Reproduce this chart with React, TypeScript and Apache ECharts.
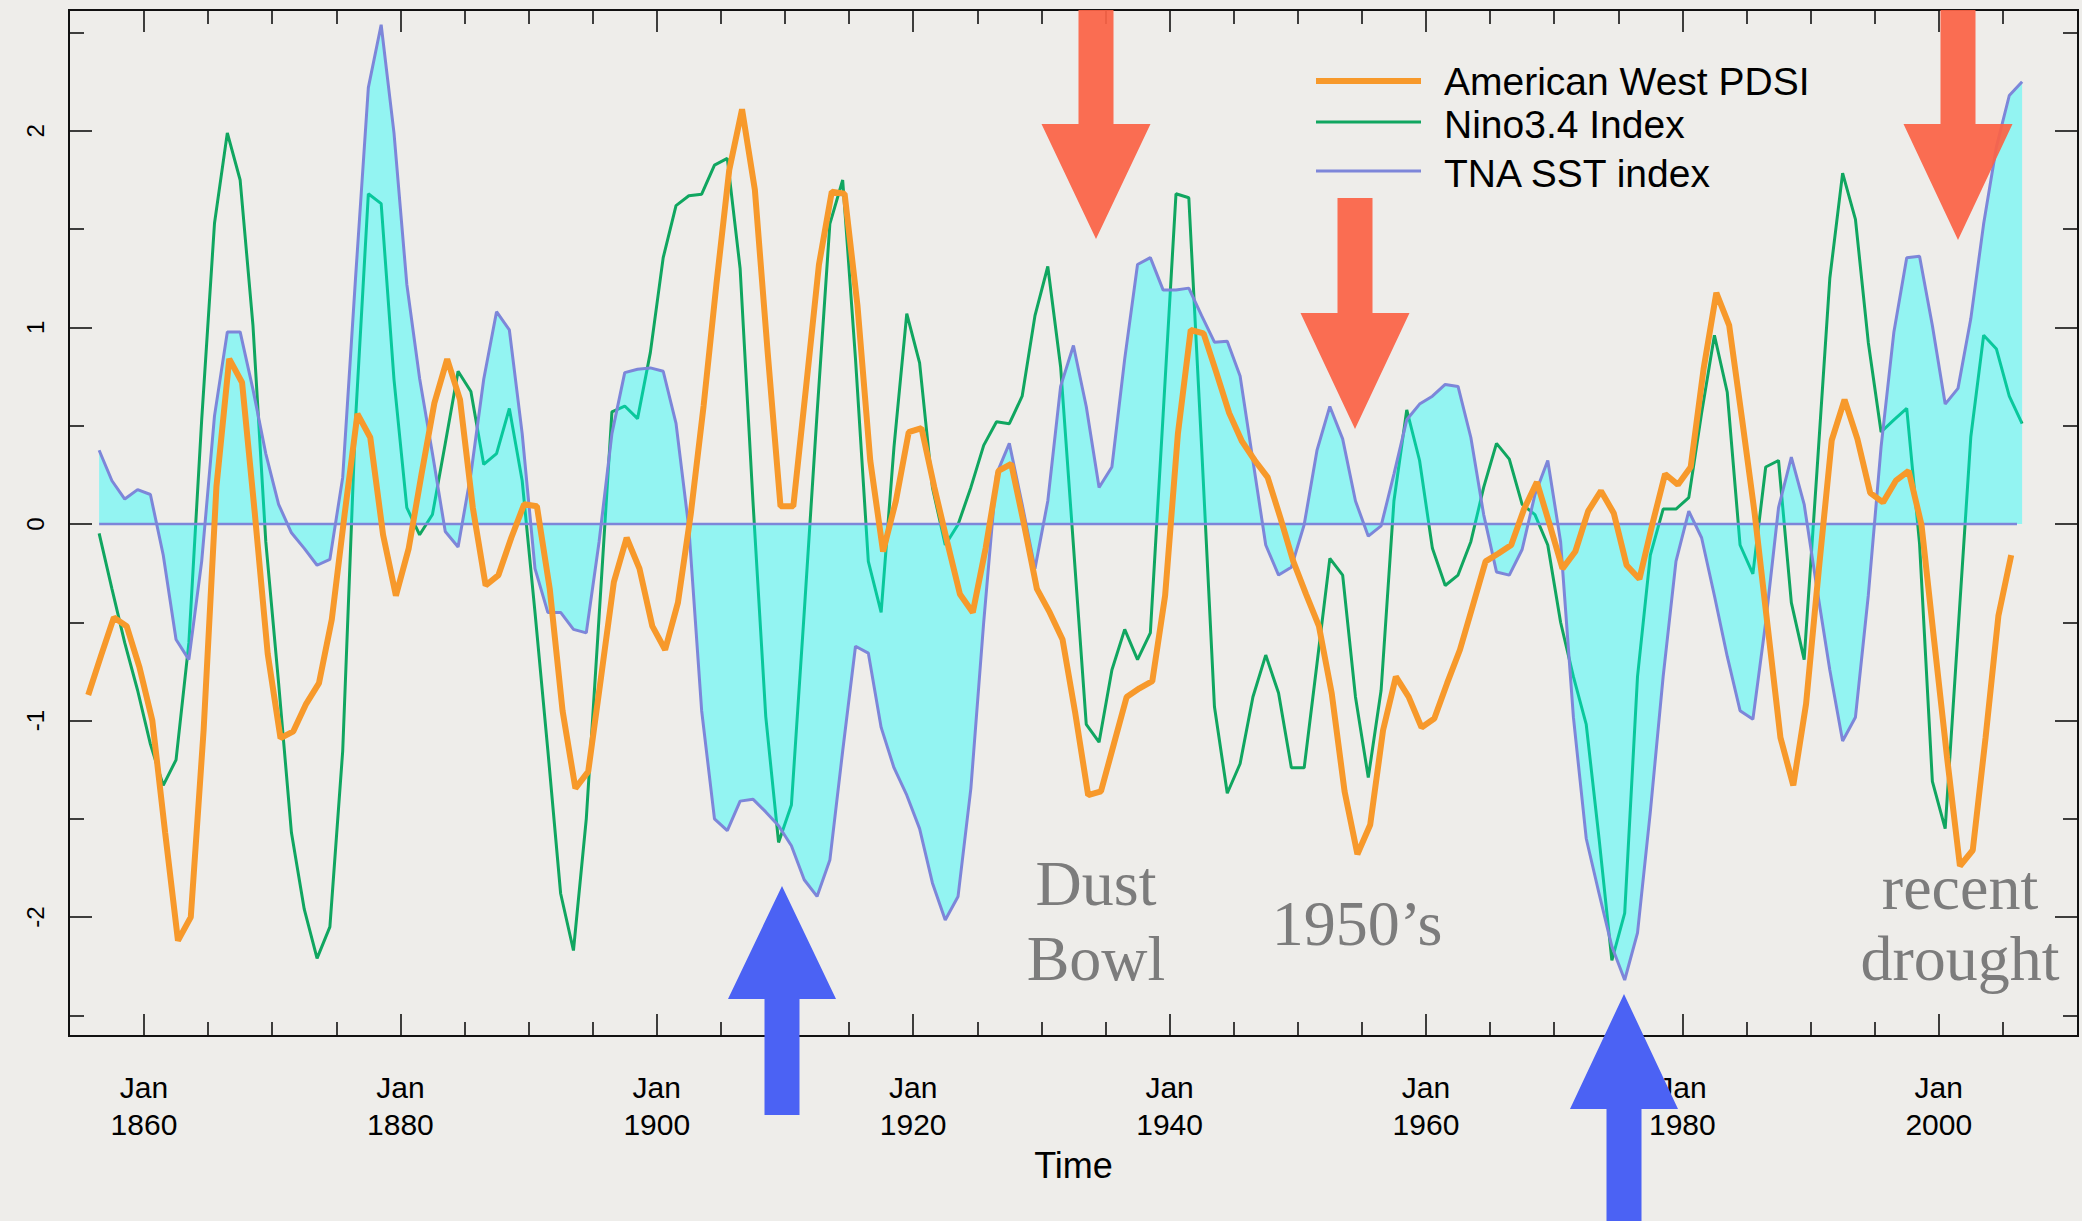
import React, { useEffect, useRef } from "react";
import * as echarts from "echarts";

// ---------------- DATA ----------------
// American West PDSI (annual, smoothed) – first point plotted at 1855.65
const PDSI_START = 1855.65;
const pdsi = [
  -0.87, -0.67, -0.475, -0.52, -0.73, -1.0, -1.57, -2.12, -2.0, -1.05,
  0.19, 0.84, 0.72, 0.05, -0.66, -1.09, -1.055, -0.915, -0.81, -0.485,
  0.05, 0.56, 0.44, -0.055, -0.365, -0.124, 0.254, 0.615, 0.839, 0.633,
  0.083, -0.313, -0.26, -0.07, 0.1, 0.09, -0.33, -0.95, -1.345, -1.26,
  -0.78, -0.296, -0.07, -0.227, -0.52, -0.64, -0.4, 0.05, 0.6, 1.22,
  1.8, 2.11, 1.7, 0.873, 0.09, 0.09, 0.7, 1.32, 1.69, 1.68,
  1.114, 0.323, -0.14, 0.117, 0.467, 0.488, 0.186, -0.09, -0.358, -0.45,
  -0.124, 0.27, 0.306, -0.003, -0.33, -0.45, -0.588, -0.966, -1.38, -1.36,
  -1.12, -0.88, -0.836, -0.8, -0.365, 0.46, 0.987, 0.97, 0.77, 0.564,
  0.42, 0.323, 0.237, 0.03, -0.19, -0.358, -0.52, -0.863, -1.36, -1.68,
  -1.53, -1.05, -0.777, -0.88, -1.035, -0.99, -0.81, -0.64, -0.416, -0.19,
  -0.15, -0.107, 0.076, 0.213, -0.003, -0.227, -0.14, 0.065, 0.168, 0.055,
  -0.21, -0.28, -0.003, 0.254, 0.2, 0.29, 0.787, 1.176, 1.01, 0.536,
  0.048, -0.52, -1.087, -1.33, -0.915, -0.227, 0.426, 0.633, 0.433, 0.158,
  0.11, 0.22, 0.27, -0.003, -0.6, -1.19, -1.74, -1.66, -1.087, -0.468,
  -0.158,
];

// Nino3.4 index and TNA SST index – first point plotted at 1856.5
const INDEX_START = 1856.5;
const nino = [
  -0.048, -0.33, -0.605, -0.846, -1.12, -1.33, -1.2, -0.605, 0.53, 1.53,
  1.99, 1.75, 1.01, -0.09, -0.81, -1.57, -1.96, -2.21, -2.05, -1.155,
  0.53, 1.68, 1.63, 0.736, 0.083, -0.055, 0.048, 0.41, 0.777, 0.674,
  0.303, 0.358, 0.588, 0.22, -0.45, -1.15, -1.88, -2.17, -1.5, -0.47,
  0.57, 0.6, 0.536, 0.873, 1.355, 1.62, 1.67, 1.678, 1.826, 1.86,
  1.3, 0.117, -0.98, -1.62, -1.43, -0.45, 0.56, 1.527, 1.75, 0.84,
  -0.19, -0.45, 0.39, 1.07, 0.82, 0.186, -0.107, -0.003, 0.186, 0.4,
  0.52, 0.51, 0.65, 1.06, 1.31, 0.8, -0.11, -1.02, -1.11, -0.743,
  -0.536, -0.69, -0.554, 0.56, 1.68, 1.66, 0.39, -0.93, -1.37, -1.22,
  -0.88, -0.667, -0.86, -1.24, -1.24, -0.71, -0.175, -0.26, -0.88, -1.29,
  -0.846, 0.117, 0.58, 0.323, -0.124, -0.313, -0.26, -0.09, 0.186, 0.41,
  0.33, 0.1, 0.048, -0.107, -0.5, -0.777, -1.02, -1.6, -2.22, -1.98,
  -0.777, -0.158, 0.076, 0.076, 0.134, 0.564, 0.96, 0.67, -0.107, -0.254,
  0.29, 0.323, -0.4, -0.69, 0.27, 1.25, 1.785, 1.55, 0.925, 0.468,
  0.53, 0.588, -0.1, -1.31, -1.55, -0.55, 0.444, 0.96, 0.89, 0.65,
  0.51,
];
const tna = [
  0.375, 0.22, 0.127, 0.175, 0.15, -0.158, -0.588, -0.69, -0.19, 0.55,
  0.977, 0.977, 0.685, 0.358, 0.1, -0.045, -0.124, -0.21, -0.18, 0.237,
  1.25, 2.22, 2.54, 1.99, 1.22, 0.74, 0.358, -0.038, -0.117, 0.254,
  0.736, 1.08, 0.987, 0.46, -0.227, -0.45, -0.45, -0.536, -0.554, -0.09,
  0.46, 0.77, 0.787, 0.794, 0.777, 0.512, -0.02, -0.95, -1.5, -1.56,
  -1.41, -1.4, -1.465, -1.535, -1.637, -1.81, -1.895, -1.71, -1.155, -0.622,
  -0.657, -1.035, -1.24, -1.38, -1.55, -1.826, -2.015, -1.895, -1.345, -0.5,
  0.254, 0.41, 0.1, -0.227, 0.117, 0.7, 0.908, 0.598, 0.186, 0.29,
  0.84, 1.32, 1.355, 1.19, 1.19, 1.2, 1.06, 0.925, 0.93, 0.753,
  0.323, -0.107, -0.26, -0.22, -0.003, 0.375, 0.598, 0.433, 0.117, -0.062,
  -0.01, 0.254, 0.53, 0.61, 0.65, 0.71, 0.7, 0.44, 0.048, -0.244,
  -0.26, -0.13, 0.15, 0.323, -0.09, -0.983, -1.6, -1.88, -2.15, -2.32,
  -2.08, -1.465, -0.777, -0.19, 0.065, -0.07, -0.365, -0.674, -0.95, -0.994,
  -0.5, 0.083, 0.34, 0.1, -0.33, -0.743, -1.104, -0.983, -0.365, 0.392,
  0.977, 1.355, 1.362, 1.01, 0.61, 0.69, 1.045, 1.527, 1.92, 2.18,
  2.25,
];
const zeroLine = [[1856.5, 0], [2006.1, 0]];

// tick positions / labels
const xMajorTicks = [1860, 1880, 1900, 1920, 1940, 1960, 1980, 2000];
const xMinorTicks = [
  1865, 1870, 1875, 1885, 1890, 1895, 1905, 1910, 1915, 1925, 1930, 1935,
  1945, 1950, 1955, 1965, 1970, 1975, 1985, 1990, 1995, 2005,
];
const yMajorTicks = [-2, -1, 0, 1, 2];
const yMinorTicks = [-2.5, -1.5, -0.5, 0.5, 1.5, 2.5];

const seriesNames = ["American West PDSI", "Nino3.4 Index", "TNA SST index"];

// ---------------- LAYOUT / STYLE ----------------
const X_MIN = 1854.15;
const X_MAX = 2010.86;
const Y_MIN = -2.605;
const Y_MAX = 2.615;
const SANS = "Liberation Sans, Arial, Helvetica, sans-serif";
const SERIF = "Liberation Serif, Times New Roman, serif";
const TICK = { color: "#111", width: 1.6 };
const ORANGE = "#F7992B";
const GREEN = "#10A660";
const SLATE = "#7D86D9";

function xAxisDef(pos: string, ticks: number[], len: number, labels: boolean) {
  return {
    type: "value",
    position: pos,
    min: X_MIN,
    max: X_MAX,
    axisLine: { show: false, onZero: false },
    splitLine: { show: false },
    axisTick: { show: true, inside: true, length: len, customValues: ticks, lineStyle: TICK },
    axisLabel: labels
      ? {
          show: true,
          customValues: ticks,
          formatter: (v: number) => "Jan\n" + v,
          fontFamily: SANS,
          fontSize: 30,
          lineHeight: 37,
          color: "#000",
          margin: 33,
        }
      : { show: false },
    name: labels ? "Time" : "",
    nameLocation: "middle",
    nameGap: 99,
    nameTextStyle: { fontFamily: SANS, fontSize: 36, color: "#000" },
  };
}

function yAxisDef(pos: string, ticks: number[], len: number, labels: boolean) {
  return {
    type: "value",
    position: pos,
    min: Y_MIN,
    max: Y_MAX,
    axisLine: { show: false, onZero: false },
    splitLine: { show: false },
    axisTick: { show: true, inside: true, length: len, customValues: ticks, lineStyle: TICK },
    axisLabel: labels
      ? {
          show: true,
          customValues: ticks,
          rotate: 90,
          fontFamily: SANS,
          fontSize: 24,
          color: "#000",
          margin: 22,
          formatter: (v: number) => String(v),
        }
      : { show: false },
  };
}

function downArrow(cx: number, top: number, headY: number, tipY: number, color: string) {
  const sw = 17.5;
  const hw = 54.5;
  return {
    type: "polygon",
    z: 100,
    shape: {
      points: [
        [cx - sw, top], [cx + sw, top], [cx + sw, headY], [cx + hw, headY],
        [cx, tipY], [cx - hw, headY], [cx - sw, headY],
      ],
    },
    style: { fill: color, opacity: 0.93 },
  };
}
function upArrow(cx: number, tipY: number, baseY: number, bottom: number, color: string) {
  const sw = 17.5;
  const hw = 54;
  return {
    type: "polygon",
    z: 100,
    shape: {
      points: [
        [cx, tipY], [cx + hw, baseY], [cx + sw, baseY], [cx + sw, bottom],
        [cx - sw, bottom], [cx - sw, baseY], [cx - hw, baseY],
      ],
    },
    style: { fill: color },
  };
}
function note(text: string, x: number, y: number) {
  return {
    type: "text",
    z: 101,
    x,
    y,
    style: {
      text,
      fill: "#7c7c7c",
      fontFamily: SERIF,
      fontSize: 64,
      align: "center",
      verticalAlign: "middle",
    },
  };
}
function legendRow(label: string, color: string, width: number, lineY: number, textY: number) {
  return [
    {
      type: "line",
      z: 102,
      shape: { x1: 1316, y1: lineY, x2: 1421, y2: lineY },
      style: { stroke: color, lineWidth: width },
    },
    {
      type: "text",
      z: 102,
      x: 1444,
      y: textY,
      style: {
        text: label,
        fill: "#000",
        fontFamily: SANS,
        fontSize: 39,
        align: "left",
        verticalAlign: "middle",
      },
    },
  ];
}

export default function App() {
  const ref = useRef<HTMLDivElement>(null);
  useEffect(() => {
    const chart = echarts.init(ref.current!, null, { renderer: "svg" });
    const RED = "#FB6346";
    const BLUE = "#4B62F4";
    chart.setOption({
      animation: false,
      backgroundColor: "#EEEDEA",
      grid: {
        left: 69,
        top: 10,
        width: 2009,
        height: 1026,
        show: true,
        borderColor: "#111",
        borderWidth: 2,
        backgroundColor: "transparent",
      },
      xAxis: [
        xAxisDef("bottom", xMajorTicks, 22, true),
        xAxisDef("bottom", xMinorTicks, 14, false),
        xAxisDef("top", xMajorTicks, 22, false),
        xAxisDef("top", xMinorTicks, 14, false),
      ],
      yAxis: [
        yAxisDef("left", yMajorTicks, 23, true),
        yAxisDef("left", yMinorTicks, 15, false),
        yAxisDef("right", yMajorTicks, 23, false),
        yAxisDef("right", yMinorTicks, 15, false),
      ],
      series: [
        {
          name: seriesNames[1],
          type: "line",
          z: 2,
          symbol: "none",
          data: nino.map((v, i) => [INDEX_START + i, v]),
          lineStyle: { color: GREEN, width: 3 },
          itemStyle: { color: GREEN },
        },
        {
          name: seriesNames[2],
          type: "line",
          z: 3,
          symbol: "none",
          data: tna.map((v, i) => [INDEX_START + i, v]),
          lineStyle: { color: SLATE, width: 3 },
          itemStyle: { color: SLATE },
          areaStyle: { color: "rgba(0,255,255,0.38)", opacity: 1, origin: 0 },
        },
        {
          name: "zero",
          type: "line",
          z: 3,
          symbol: "none",
          silent: true,
          data: zeroLine,
          lineStyle: { color: SLATE, width: 2.5 },
        },
        {
          name: seriesNames[0],
          type: "line",
          z: 4,
          symbol: "none",
          data: pdsi.map((v, i) => [PDSI_START + i, v]),
          lineStyle: { color: ORANGE, width: 6 },
          itemStyle: { color: ORANGE },
        },
      ],
      graphic: [
        ...legendRow(seriesNames[0], ORANGE, 6, 81, 81),
        ...legendRow(seriesNames[1], GREEN, 3, 122, 124),
        ...legendRow(seriesNames[2], SLATE, 3, 171, 173),
        downArrow(1096, 10, 124, 239, RED),
        downArrow(1355, 198, 313, 429, RED),
        downArrow(1958, 10, 124, 240, RED),
        upArrow(782, 886, 999, 1115, BLUE),
        upArrow(1624, 994, 1109, 1221, BLUE),
        note("Dust", 1096, 883),
        note("Bowl", 1096, 958),
        note("1950\u2019s", 1357, 923),
        note("recent", 1960, 887),
        note("drought", 1960, 958),
      ],
    });
    return () => chart.dispose();
  }, []);
  return (
    <div
      ref={ref}
      style={{ position: "fixed", left: 0, top: 0, width: 2082, height: 1221, background: "#EEEDEA" }}
    />
  );
}
